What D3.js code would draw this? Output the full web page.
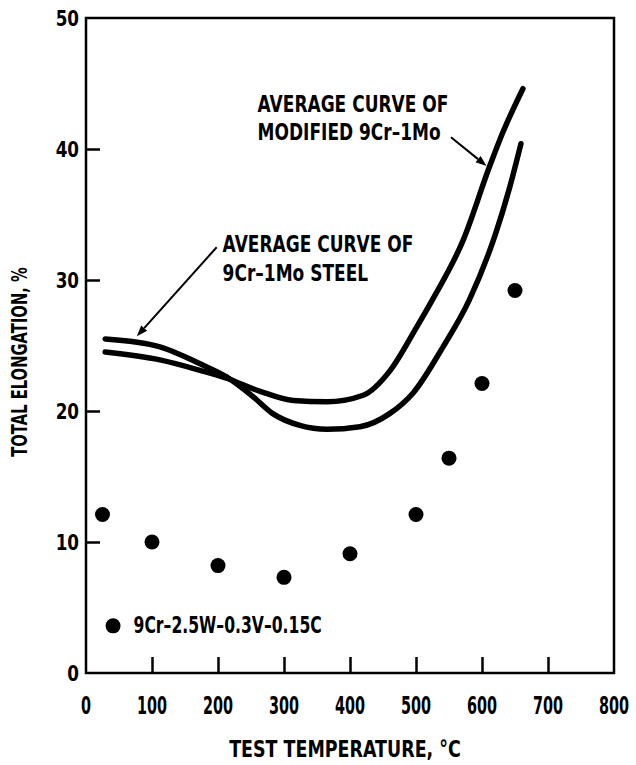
<!DOCTYPE html>
<html>
<head>
<meta charset="utf-8">
<script src="https://cdn.jsdelivr.net/npm/d3@7"></script>
<style>
  html, body { margin: 0; padding: 0; background: #fff; }
  svg text { font-family: "DejaVu Sans", sans-serif; font-weight: bold; fill: #000; }
</style>
</head>
<body>
<svg id="chart" width="636" height="765"></svg>
<script>
// ---- data ----
const xTicks = [0, 100, 200, 300, 400, 500, 600, 700, 800];
const yTicks = [0, 10, 20, 30, 40, 50];

// 9Cr-1Mo steel average curve
const steelTemp = [29, 112, 173, 213, 253, 283, 324, 365, 415, 460, 496, 541, 581, 621, 641, 659];
const steelElong = [25.5, 24.9, 23.6, 22.6, 21.1, 19.8, 18.9, 18.6, 18.8, 19.8, 21.4, 24.9, 28.5, 33.6, 36.9, 40.4];

// Modified 9Cr-1Mo average curve
const modTemp = [29, 112, 173, 213, 264, 314, 365, 420, 461, 501, 525, 572, 611, 631, 662];
const modElong = [24.5, 23.9, 23.1, 22.5, 21.5, 20.8, 20.7, 21.2, 23.1, 26.4, 28.5, 33.1, 38.6, 41.2, 44.6];

// 9Cr-2.5W-0.3V-0.15C points
const wTemp = [25, 100, 200, 300, 400, 500, 550, 600, 650];
const wElong = [12.1, 10.0, 8.2, 7.3, 9.1, 12.1, 16.4, 22.1, 29.2];

const labelMod = ["AVERAGE CURVE OF", "MODIFIED 9Cr\u20131Mo"];
const labelSteel = ["AVERAGE CURVE OF", "9Cr\u20131Mo STEEL"];
const legendLabel = "9Cr\u20132.5W\u20130.3V\u20130.15C";
const xTitle = "TEST TEMPERATURE, \u00B0C";
const yTitle = "TOTAL ELONGATION, %";

// ---- drawing ----
const svg = d3.select("#chart");
const x = d3.scaleLinear().domain([0, 800]).range([86, 614]);
const y = d3.scaleLinear().domain([0, 50]).range([673, 18]);

// condensed text helper
function ctext(px, py, str, size, sx, anchor, rot) {
  return svg.append("text")
    .attr("transform", `translate(${px},${py})${rot ? ` rotate(${rot})` : ""} scale(${sx},1)`)
    .attr("text-anchor", anchor || "start")
    .attr("font-size", size)
    .text(str);
}

// frame
svg.append("rect")
  .attr("x", x(0)).attr("y", y(50))
  .attr("width", x(800) - x(0)).attr("height", y(0) - y(50))
  .attr("fill", "none").attr("stroke", "#000").attr("stroke-width", 2.5);

// inward ticks
const xAxis = d3.axisTop(x).tickValues(xTicks.slice(1, -1)).tickSize(16).tickFormat("");
svg.append("g").attr("transform", `translate(0,${y(0)})`).call(xAxis)
  .call(g => g.select(".domain").remove())
  .call(g => g.selectAll("line").attr("stroke", "#000").attr("stroke-width", 2.5));
const yAxis = d3.axisRight(y).tickValues(yTicks.slice(1, -1)).tickSize(14).tickFormat("");
svg.append("g").attr("transform", `translate(${x(0)},0)`).call(yAxis)
  .call(g => g.select(".domain").remove())
  .call(g => g.selectAll("line").attr("stroke", "#000").attr("stroke-width", 2.5));

// tick labels
xTicks.forEach(d => ctext(x(d), 714, d, 24, 0.6, "middle"));
yTicks.forEach(d => ctext(79, y(d) + 8, d, 21, 0.8, "end"));

// axis titles
ctext(345, 757, xTitle, 23, 0.76, "middle");
ctext(27, 362, yTitle, 22, 0.67, "middle", -90);

// curves
const line = d3.line().x(d => x(d[0])).y(d => y(d[1])).curve(d3.curveMonotoneX);
const steel = steelTemp.map((t, i) => [t, steelElong[i]]);
const mod = modTemp.map((t, i) => [t, modElong[i]]);
[steel, mod].forEach(s => {
  svg.append("path").datum(s).attr("d", line)
    .attr("fill", "none").attr("stroke", "#000").attr("stroke-width", 5.5)
    .attr("stroke-linecap", "round").attr("stroke-linejoin", "round");
});

// points
svg.append("g").selectAll("circle").data(wTemp).join("circle")
  .attr("cx", d => x(d)).attr("cy", (d, i) => y(wElong[i])).attr("r", 7.5).attr("fill", "#000");

// legend
svg.append("circle").attr("cx", x(41)).attr("cy", y(3.6)).attr("r", 7.5).attr("fill", "#000");
ctext(x(72), y(3.05), legendLabel, 23, 0.68);

// annotations
function label(lines, tx, ty1, ty2) {
  ctext(x(tx), y(ty1), lines[0], 23, 0.74);
  ctext(x(tx), y(ty2), lines[1], 23, 0.74);
}
label(labelMod, 260, 42.8, 40.7);
label(labelSteel, 207, 32.1, 29.9);

function arrow(t0, e0, t1, e1) {
  const x0 = x(t0), y0 = y(e0), x1 = x(t1), y1 = y(e1);
  const ang = Math.atan2(y1 - y0, x1 - x0);
  const L = 11, W = 4;
  const bx = x1 - L * Math.cos(ang), by = y1 - L * Math.sin(ang);
  svg.append("line").attr("x1", x0).attr("y1", y0).attr("x2", bx).attr("y2", by)
    .attr("stroke", "#000").attr("stroke-width", 2);
  const px = -Math.sin(ang) * W, py = Math.cos(ang) * W;
  svg.append("path")
    .attr("d", `M${x1},${y1}L${bx + px},${by + py}L${bx - px},${by - py}Z`)
    .attr("fill", "#000");
}
arrow(553, 40.9, 607, 38.7);
arrow(198, 32.5, 77, 25.7);
</script>
</body>
</html>
